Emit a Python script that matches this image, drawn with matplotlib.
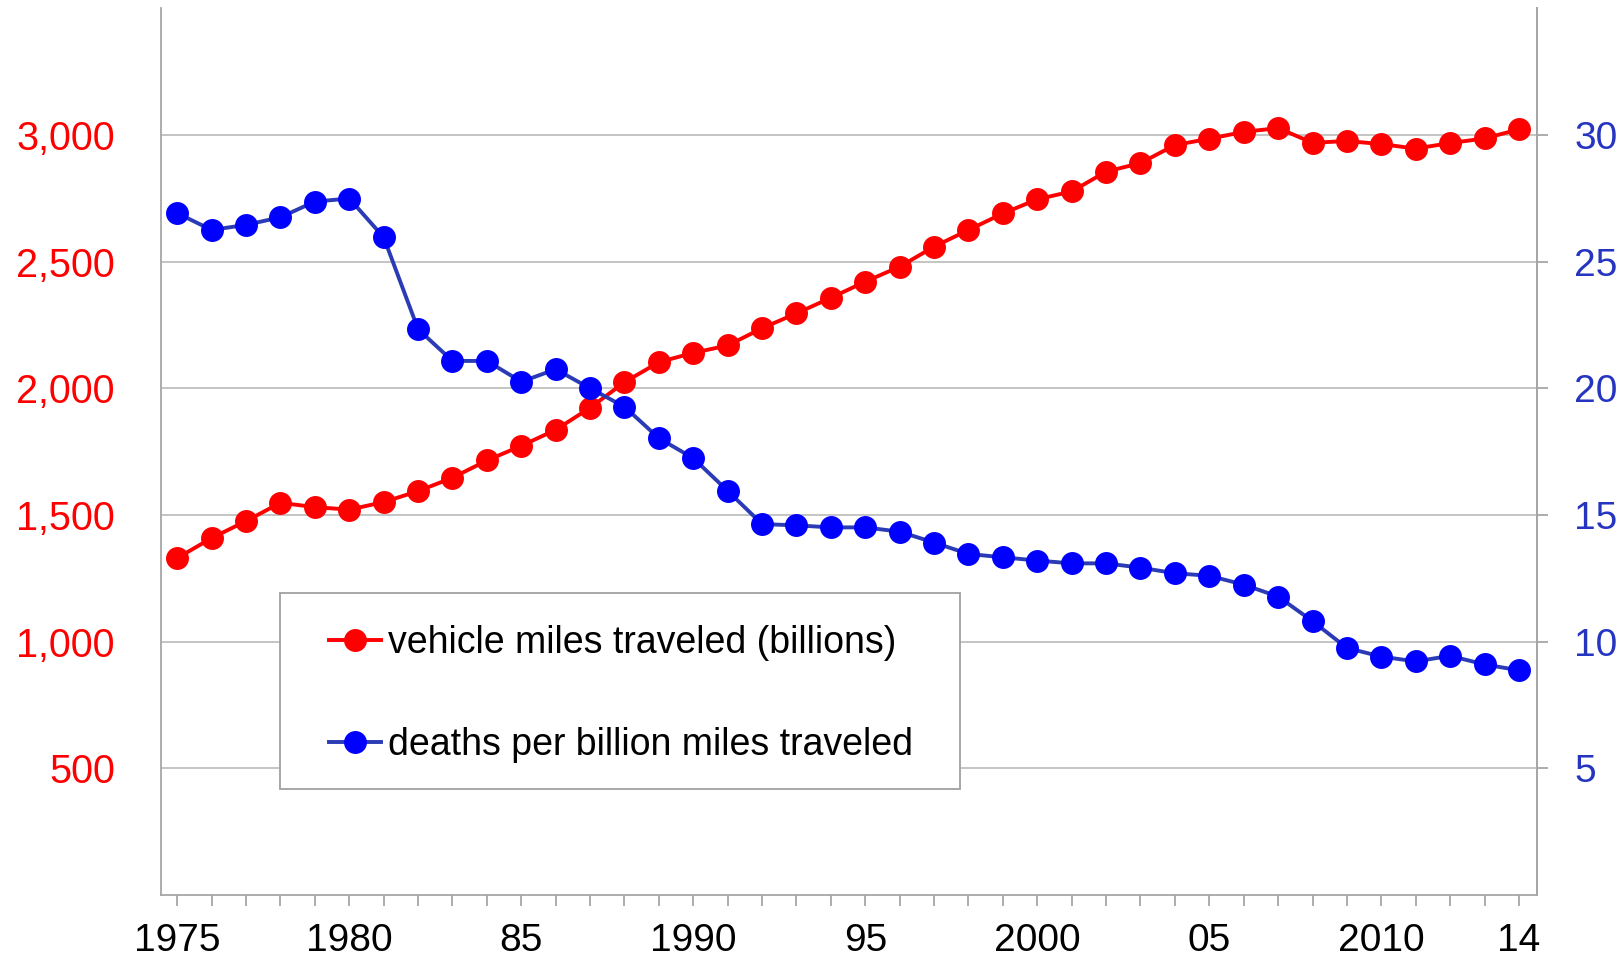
import matplotlib
matplotlib.use("Agg")
import matplotlib.pyplot as plt
from matplotlib.patches import Rectangle

plt.rcParams["font.family"] = ["Liberation Sans", "DejaVu Sans"]

# ---- data ----
years = list(range(1975, 2015))

vmt = [1330, 1409, 1476, 1548, 1531, 1521, 1551, 1594, 1647, 1715,
       1773, 1836, 1923, 2024, 2103, 2140, 2169, 2237, 2296, 2357,
       2421, 2480, 2559, 2625, 2690, 2746, 2777, 2855, 2889, 2960,
       2985, 3012, 3027, 2969, 2976, 2964, 2946, 2968, 2986, 3022]

deaths = [26.91, 26.25, 26.45, 26.75, 27.37, 27.49, 25.96, 22.33, 21.08, 21.08,
          20.26, 20.75, 20.00, 19.27, 18.03, 17.24, 15.95, 14.64, 14.59, 14.51,
          14.51, 14.34, 13.91, 13.46, 13.33, 13.20, 13.09, 13.09, 12.92, 12.70,
          12.60, 12.25, 11.78, 10.81, 9.75, 9.41, 9.22, 9.44, 9.10, 8.87]

label_years = [1975, 1980, 1985, 1990, 1995, 2000, 2005, 2010, 2014]
label_text = ["1975", "1980", "85", "1990", "95", "2000", "05", "2010", "14"]

left_ticks = [500, 1000, 1500, 2000, 2500, 3000]
right_ticks = [5, 10, 15, 20, 25, 30]

vmt_label = "vehicle miles traveled (billions)"
deaths_label = "deaths per billion miles traveled"

# ---- figure ----
grey = "#a6a6a6"
fig = plt.figure(figsize=(16.24, 9.6), dpi=100)
ax = fig.add_axes([0.099, 0.0677, 0.8473, 0.9237])
ax2 = ax.twinx()

ax.set_xlim(1974.52, 2014.52)
ax.set_ylim(0, 3500)
ax2.set_ylim(0, 35)

# spines
for a in (ax, ax2):
    a.spines["top"].set_visible(False)
    for s in ("left", "right", "bottom"):
        a.spines[s].set_color(grey)
        a.spines[s].set_linewidth(1.3)
ax2.spines["left"].set_visible(False)
ax2.spines["bottom"].set_visible(False)

# grid
ax.set_yticks(left_ticks)
ax.set_yticklabels([f"{v:,}" for v in left_ticks])
ax.yaxis.grid(True, color="#bfbfbf", linewidth=1.3)
ax.set_axisbelow(True)

# x ticks
ax.set_xticks(years)
lab = dict(zip(label_years, label_text))
ax.set_xticklabels([lab.get(y, "") for y in years])
ax.tick_params(axis="x", direction="out", length=8, width=1.3, color=grey,
               labelsize=28, pad=12)

# left y
ax.tick_params(axis="y", length=0, pad=33, labelcolor="#ff0000", labelsize=28.5)

# right y
ax2.set_yticks(right_ticks)
ax2.tick_params(axis="y", direction="out", length=8, width=1.3, color=grey,
                pad=19, labelcolor="#2535c0", labelsize=28)

# lines
l1, = ax.plot(years, vmt, color="#ff0000", lw=2.8, marker="o", ms=15.5,
              label=vmt_label)
l2, = ax2.plot(years, deaths, color="#2a3bb5", lw=2.8, marker="o", ms=15.5,
               mfc="#0000ff", mec="#0000ff", label=deaths_label)

# legend box
ax2.add_patch(Rectangle((0.0864, 0.119), 0.4945, 0.222, transform=ax2.transAxes,
                        facecolor="white", edgecolor="#a0a0a0", linewidth=1.3,
                        zorder=3))
ax2.legend(handles=[l1, l2], loc="center left", bbox_to_anchor=(0.1223, 0.2268),
           frameon=False, fontsize=27, handlelength=1.39, handletextpad=0.19,
           labelspacing=1.75, borderpad=0, borderaxespad=0)

fig.savefig("out.png", dpi=100)
